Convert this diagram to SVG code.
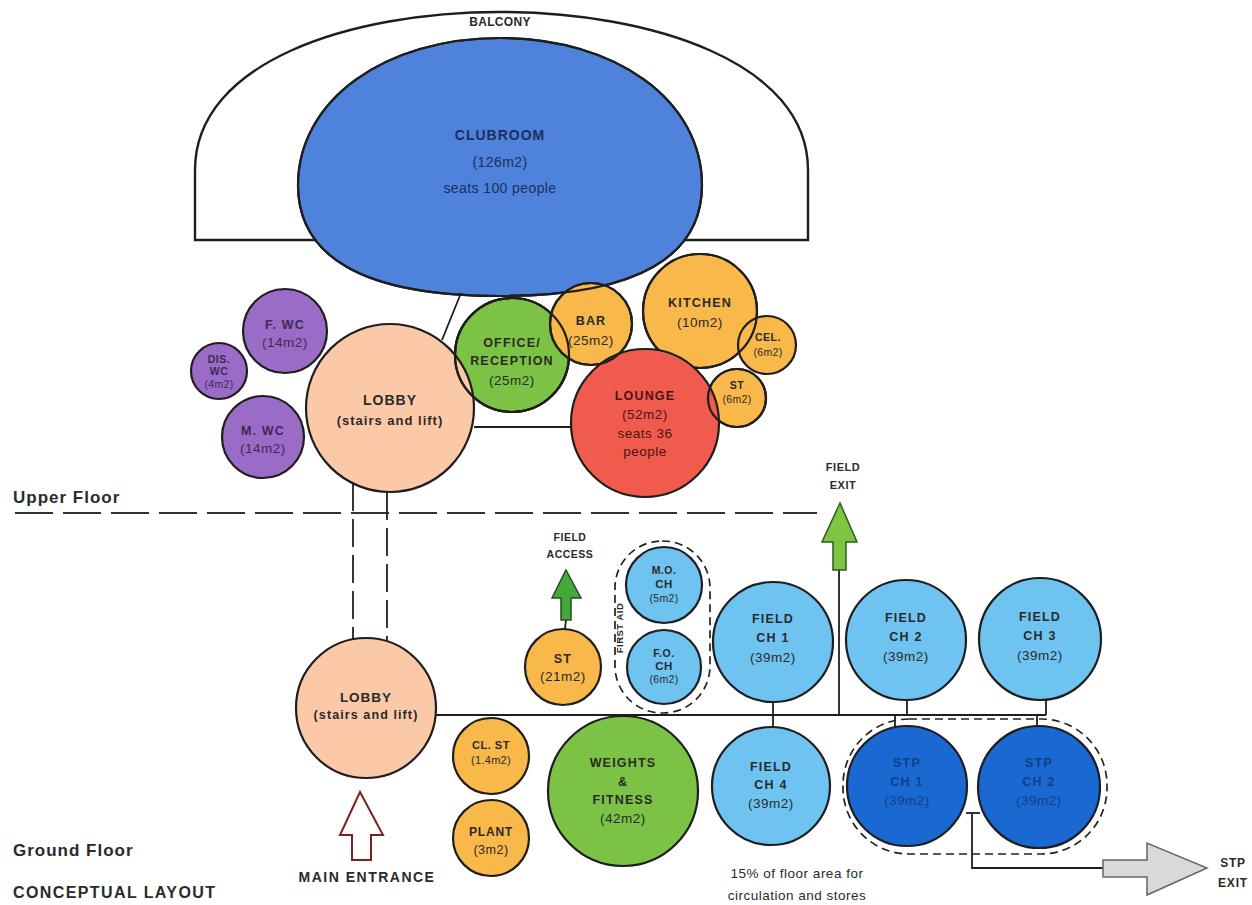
<svg xmlns="http://www.w3.org/2000/svg" width="1252" height="905" viewBox="0 0 1252 905">
<style>
  text{font-family:"Liberation Sans",Arial,sans-serif;text-anchor:middle;dominant-baseline:central;fill:#2a2a2a}
  .t{font-weight:bold;font-size:12.5px;letter-spacing:1.2px}
  .s{font-size:13.5px;letter-spacing:0.5px}
  .xs{font-size:10.5px;letter-spacing:0.3px}
  .xsb{font-size:10.5px;font-weight:bold;letter-spacing:0.5px}
  .lab{font-weight:bold;font-size:17px;letter-spacing:1px;text-anchor:start}
  .o{stroke:#1e1e1e;stroke-width:2.2}
  .purple{fill:#9a6cc8}
  .peach{fill:#fcc9a8}
  .green{fill:#7cc244}
  .orange{fill:#f9b84a}
  .red{fill:#f15b4e}
  .lblue{fill:#6fc3f1}
  .dblue{fill:#1a68d2}
  .ptext{fill:#3d2a55}
  .btext{fill:#123f86}
  .ln{stroke:#1e1e1e;stroke-width:1.8;fill:none}
  .dash{stroke:#333;stroke-width:1.8;fill:none;stroke-dasharray:38 10}
  .vdash{stroke:#222;stroke-width:1.8;fill:none;stroke-dasharray:28 8}
  .grp{stroke:#222;stroke-width:1.7;fill:none;stroke-dasharray:8 5}
</style>
<defs>
  <path id="clubshape" d="M500,38 C615,38 702,100 702,185 C702,255 640,296 500,296 C360,296 298,255 298,185 C298,100 385,38 500,38 Z"/>
</defs>

<!-- Balcony and clubroom -->
<g id="balcony">
  <path d="M195,240 L195,170 C195,62 350,12 500,12 C650,12 808,62 808,170 L808,240 Z" fill="#fff" stroke="#1e1e1e" stroke-width="2.4"/>
  <text x="500" y="22" class="t" style="font-size:12px;letter-spacing:0.3px">BALCONY</text>
</g>
<g id="clubroom">
  <use href="#clubshape" fill="#4f82da" class="o"/>
  <text x="500" y="135" class="t" style="font-size:14px;fill:#1b2f5e;letter-spacing:1px">CLUBROOM</text>
  <text x="500" y="162" class="s" style="fill:#1b2f5e;font-size:14px;letter-spacing:0.4px">(126m2)</text>
  <text x="500" y="188" class="s" style="fill:#1b2f5e;font-size:14px;letter-spacing:0.4px">seats 100 people</text>
</g>

<!-- connectors -->
<g id="connectors">
  <line x1="442" y1="340" x2="461" y2="293" class="ln"/>
  <line x1="474" y1="427" x2="573" y2="427" class="ln"/>
  <line x1="15" y1="513" x2="817" y2="513" class="dash"/>
  <line x1="353" y1="483" x2="353" y2="639" class="vdash"/>
  <line x1="387" y1="492" x2="387" y2="641" class="vdash"/>
  <line x1="436" y1="715" x2="1046" y2="715" class="ln"/>
  <line x1="773" y1="702" x2="773" y2="728" class="ln"/>
  <line x1="907" y1="700" x2="907" y2="715" class="ln"/>
  <line x1="1046" y1="699" x2="1046" y2="715" class="ln"/>
  <line x1="895" y1="715" x2="895" y2="728" class="ln"/>
  <line x1="1037" y1="715" x2="1037" y2="727" class="ln"/>
  <line x1="839" y1="570" x2="839" y2="715" class="ln"/>
  <line x1="566" y1="620" x2="565" y2="629" class="ln"/>
  <line x1="966" y1="813" x2="980" y2="813" class="ln"/>
  <polyline points="972,813 972,868 1103,868" class="ln"/>
</g>

<!-- Upper floor nodes -->
<g id="fwc"><circle cx="285" cy="331" r="42" class="purple o"/>
  <text x="285" y="325" class="t ptext">F. WC</text><text x="285" y="342" class="s ptext">(14m2)</text></g>
<g id="diswc"><circle cx="219" cy="371" r="28" class="purple o"/>
  <text x="219" y="359" class="xsb ptext">DIS.</text><text x="219" y="371" class="xsb ptext">WC</text><text x="219" y="384" class="xs ptext">(4m2)</text></g>
<g id="mwc"><circle cx="263" cy="437" r="41" class="purple o"/>
  <text x="263" y="431" class="t ptext">M. WC</text><text x="263" y="448" class="s ptext">(14m2)</text></g>

<g id="office"><circle cx="512" cy="355" r="57" class="green o"/></g>
<g id="lobby-upper"><circle cx="390" cy="408" r="84" class="peach o"/>
  <circle cx="512" cy="355" r="57" fill="none" class="o"/>
  <text x="390" y="400" class="t" style="font-size:14px;letter-spacing:1px">LOBBY</text>
  <text x="390" y="420" class="t" style="font-size:13px;letter-spacing:1px">(stairs and lift)</text></g>
<g id="office-text">
  <text x="512" y="343" class="t">OFFICE/</text><text x="512" y="361" class="t">RECEPTION</text><text x="512" y="380" class="s">(25m2)</text></g>
<g id="bar"><circle cx="591" cy="324" r="41" class="orange o"/>
  <circle cx="512" cy="355" r="57" fill="none" class="o"/>
  <use href="#clubshape" fill="none" class="o"/>
  <text x="591" y="321" class="t">BAR</text><text x="591" y="340" class="s">(25m2)</text></g>
<g id="kitchen"><circle cx="700" cy="311" r="57" class="orange o"/>
  <text x="700" y="303" class="t">KITCHEN</text><text x="700" y="322" class="s">(10m2)</text></g>
<g id="cel"><circle cx="767" cy="345" r="29" class="orange o"/>
  <circle cx="700" cy="311" r="57" fill="none" class="o"/>
  <text x="768" y="337" class="xsb">CEL.</text><text x="768" y="352" class="xs">(6m2)</text></g>
<g id="st-upper"><circle cx="737" cy="398" r="29" class="orange o"/>
  <text x="737" y="385" class="xsb">ST</text><text x="737" y="399" class="xs">(6m2)</text></g>
<g id="lounge"><circle cx="645" cy="423" r="74" class="red o"/>
  <circle cx="591" cy="324" r="41" fill="none" class="o"/>
  <circle cx="737" cy="398" r="29" fill="none" class="o"/>
  <text x="645" y="396" class="t" style="fill:#4a1414">LOUNGE</text><text x="645" y="414" class="s" style="fill:#4a1414">(52m2)</text>
  <text x="645" y="433" class="s" style="fill:#4a1414">seats 36</text><text x="645" y="451" class="s" style="fill:#4a1414">people</text></g>

<!-- Ground floor nodes -->
<g id="lobby-ground"><circle cx="366" cy="708" r="70" class="peach o"/>
  <text x="366" y="697" class="t" style="font-size:13.5px;letter-spacing:1px">LOBBY</text>
  <text x="366" y="715" class="t" style="font-size:12.5px;letter-spacing:1.1px">(stairs and lift)</text></g>
<g id="st21"><circle cx="563" cy="667" r="38" class="orange o"/>
  <text x="563" y="659" class="t">ST</text><text x="563" y="676" class="s">(21m2)</text></g>
<g id="first-aid">
  <rect x="615" y="541" width="95" height="172" rx="47" class="grp"/>
  <text x="619" y="628" class="xsb" transform="rotate(-90 619 628)" style="font-size:9.5px">FIRST AID</text>
</g>
<g id="moch"><circle cx="664" cy="585" r="38" class="lblue o"/>
  <text x="664" y="570" class="xsb">M.O.</text><text x="664" y="584" class="xsb" style="font-size:11.5px">CH</text><text x="664" y="598" class="xs">(5m2)</text></g>
<g id="foch"><circle cx="664" cy="667" r="37" class="lblue o"/>
  <text x="664" y="653" class="xsb">F.O.</text><text x="664" y="666" class="xsb" style="font-size:11.5px">CH</text><text x="664" y="679" class="xs">(6m2)</text></g>
<g id="clst"><circle cx="491" cy="756" r="38" class="orange o"/>
  <text x="491" y="745" class="xsb" style="font-size:11px">CL. ST</text><text x="491" y="760" class="xs" style="font-size:11px">(1.4m2)</text></g>
<g id="plant"><circle cx="491" cy="838" r="38" class="orange o"/>
  <text x="491" y="832" class="t" style="font-size:12px;letter-spacing:0.8px">PLANT</text><text x="491" y="850" class="s" style="font-size:12.5px">(3m2)</text></g>
<g id="weights"><circle cx="623" cy="791" r="75" class="green o"/>
  <text x="623" y="763" class="t">WEIGHTS</text><text x="623" y="782" class="t">&amp;</text>
  <text x="623" y="800" class="t">FITNESS</text><text x="623" y="818" class="s">(42m2)</text></g>
<g id="fch1"><circle cx="773" cy="642" r="60" class="lblue o"/>
  <text x="773" y="619" class="t">FIELD</text><text x="773" y="638" class="t">CH 1</text><text x="773" y="657" class="s">(39m2)</text></g>
<g id="fch2"><circle cx="906" cy="640" r="60" class="lblue o"/>
  <text x="906" y="618" class="t">FIELD</text><text x="906" y="637" class="t">CH 2</text><text x="906" y="656" class="s">(39m2)</text></g>
<g id="fch3"><circle cx="1040" cy="639" r="61" class="lblue o"/>
  <text x="1040" y="617" class="t">FIELD</text><text x="1040" y="636" class="t">CH 3</text><text x="1040" y="655" class="s">(39m2)</text></g>
<g id="fch4"><circle cx="771" cy="786" r="59" class="lblue o"/>
  <text x="771" y="767" class="t">FIELD</text><text x="771" y="785" class="t">CH 4</text><text x="771" y="803" class="s">(39m2)</text></g>
<g id="stp-group"><rect x="843" y="719" width="264" height="135" rx="66" class="grp"/></g>
<g id="stp1"><circle cx="907" cy="786" r="60" class="dblue o"/>
  <text x="907" y="763" class="t btext">STP</text><text x="907" y="782" class="t btext">CH 1</text><text x="907" y="800" class="s btext">(39m2)</text></g>
<g id="stp2"><circle cx="1039" cy="787" r="61" class="dblue o"/>
  <text x="1039" y="763" class="t btext">STP</text><text x="1039" y="782" class="t btext">CH 2</text><text x="1039" y="800" class="s btext">(39m2)</text></g>

<!-- Arrows -->
<g id="field-access">
  <polygon points="566,570 581,598 571,598 571,620 561,620 561,598 552,598" fill="#46a83a" stroke="#244f1c" stroke-width="1.5"/>
  <text x="570" y="537" class="xsb">FIELD</text><text x="570" y="554" class="xsb">ACCESS</text>
</g>
<g id="field-exit">
  <polygon points="840,503 857,542 846,542 846,570 833,570 833,542 822,542" fill="#7fc544" stroke="#2f5a1f" stroke-width="1.5"/>
  <text x="843" y="467" class="xsb" style="font-size:11px">FIELD</text><text x="843" y="485" class="xsb" style="font-size:11px">EXIT</text>
</g>
<g id="main-entrance">
  <polygon points="360,792 383,835 371,835 371,860 352,860 352,835 340,835" fill="#fff" stroke="#7a2222" stroke-width="2"/>
  <text x="367" y="877" class="t" style="font-size:14px;letter-spacing:1.5px">MAIN ENTRANCE</text>
</g>
<g id="stp-exit">
  <polygon points="1103,860 1147,860 1147,843 1207,868 1147,895 1147,877 1103,877" fill="#d9d9d9" stroke="#666" stroke-width="1.5"/>
  <text x="1233" y="863" class="t" style="font-size:12px;letter-spacing:0.8px">STP</text><text x="1233" y="883" class="t" style="font-size:12px;letter-spacing:0.8px">EXIT</text>
</g>

<!-- Labels -->
<g id="labels">
  <text x="13" y="497" class="lab">Upper Floor</text>
  <text x="13" y="850" class="lab">Ground Floor</text>
  <text x="13" y="892" class="lab" style="font-size:16px;letter-spacing:1.4px">CONCEPTUAL LAYOUT</text>
  <text x="797" y="873" class="s" style="font-size:13.5px">15% of floor area for</text>
  <text x="797" y="895" class="s" style="font-size:13.5px">circulation and stores</text>
</g>
</svg>
